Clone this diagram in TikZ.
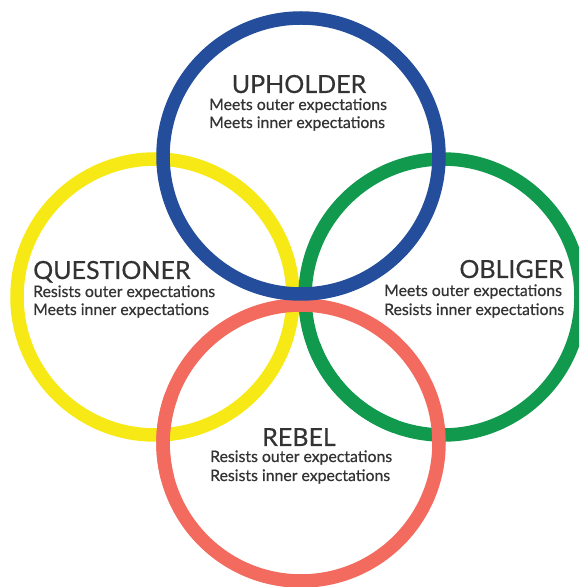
\documentclass[tikz,border=0pt]{standalone}
\usepackage{fontspec}
\setmainfont{Lato}
\newfontfamily\subfont{Lato}[FakeBold=0.6]
\newfontfamily\titfont{Lato}[FakeBold=0.4]
\definecolor{cblue}{RGB}{36,78,155}
\definecolor{cyellow}{RGB}{247,233,22}
\definecolor{cgreen}{RGB}{17,154,78}
\definecolor{cred}{RGB}{242,107,94}
\definecolor{ctext}{RGB}{51,51,51}
\begin{document}
\begin{tikzpicture}[x=1pt,y=1pt,
  ring/.style={line width=13.5pt},
  title/.style={inner sep=0pt, text=ctext, font=\titfont\fontsize{25}{25}\selectfont},
  sub/.style={inner sep=0pt, text=ctext, font=\subfont\fontsize{15.8}{16}\selectfont, anchor=base west}]
\useasboundingbox (0,0) rectangle (579,587);
\begin{scope}
\clip (0,0) rectangle (579,587);
\coordinate (cB) at (301,431);
\coordinate (cR) at (301,144);
\coordinate (cY) at (155,290);
\coordinate (cG) at (443,290);
\draw[ring, cyellow] (cY) circle[radius=138];
\draw[ring, cgreen] (cG) circle[radius=138];
\draw[ring, cred] (cR) circle[radius=138];
\draw[ring, cgreen] (cG) ++(200:138) arc[start angle=200, end angle=250, radius=138];
\draw[ring, cred] (cR) ++(160:138) arc[start angle=160, end angle=195, radius=138];
\draw[ring, cblue] (cB) circle[radius=138];
\end{scope}
% Upholder
\node[title, anchor=base] (uph) at (299,494) {UPHOLDER};
\node[sub] (uph1) at (209,477) {Meets outer expectations};
\node[sub] (uph2) at (209,459) {Meets inner expectations};
% Questioner
\node[title, anchor=base west] (que) at (33,308) {QUESTIONER};
\node[sub] (que1) at (33,290) {Resists outer expectations};
\node[sub] (que2) at (33,272) {Meets inner expectations};
% Obliger
\node[title, anchor=base east] (obl) at (564,309) {OBLIGER};
\node[sub] (obl1) at (384,291) {Meets outer expectations};
\node[sub] (obl2) at (384,272) {Resists inner expectations};
% Rebel
\node[title, anchor=base] (reb) at (299,141) {REBEL};
\node[sub] (reb1) at (210,125) {Resists outer expectations};
\node[sub] (reb2) at (210,106) {Resists inner expectations};
\end{tikzpicture}
\end{document}
